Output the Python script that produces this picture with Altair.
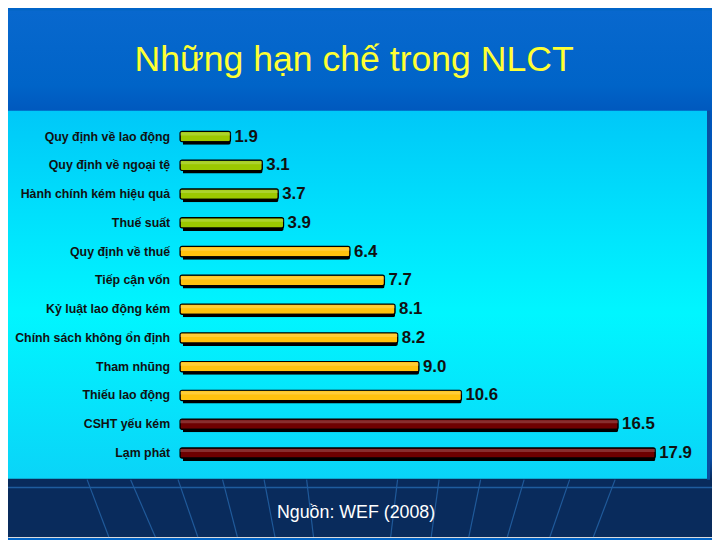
import altair as alt
import pandas as pd

# ---- data ----
categories = [
    "Quy định về lao động",
    "Quy định về ngoại tệ",
    "Hành chính kém hiệu quả",
    "Thuế suất",
    "Quy định về thuế",
    "Tiếp cận vốn",
    "Kỷ luật lao động kém",
    "Chính sách không ổn định",
    "Tham nhũng",
    "Thiếu lao động",
    "CSHT yếu kém",
    "Lạm phát",
]
values = [1.9, 3.1, 3.7, 3.9, 6.4, 7.7, 8.1, 8.2, 9.0, 10.6, 16.5, 17.9]
groups = ["low", "low", "low", "low", "mid", "mid", "mid", "mid", "mid", "mid", "high", "high"]
group_names = ["low", "mid", "high"]
group_colors = ["#9CC800", "#FFC20E", "#6E0000"]

title_text = "Những hạn chế trong NLCT"
source_text = "Nguồn: WEF (2008)"

df = pd.DataFrame({"category": categories, "value": values, "group": groups})

W, H = 712, 532
LABEL_FONT = "Liberation Sans, Arial, sans-serif"

one = alt.Data(values=[{}])

x_scale = alt.Scale(domain=[0, 20], range=[174, 711], nice=False, zero=True)
y_scale = alt.Scale(domain=categories, range=[112.45, 461.55], paddingInner=0.64, paddingOuter=0.32)
X = alt.X("value:Q", scale=x_scale, axis=None)
Y = alt.Y("category:N", sort=categories, scale=y_scale, axis=None)

# slide background
slide = alt.Chart(one).mark_rect(
    fill=alt.Gradient(
        gradient="linear",
        stops=[
            alt.GradientStop(color="#0868CE", offset=0),
            alt.GradientStop(color="#0064C8", offset=0.14),
            alt.GradientStop(color="#0056BC", offset=0.2),
            alt.GradientStop(color="#0A4FA8", offset=0.85),
            alt.GradientStop(color="#082C5E", offset=0.89),
        ],
        x1=0, x2=0, y1=0, y2=1,
    )
).encode(x=alt.value(0), x2=alt.value(W), y=alt.value(0), y2=alt.value(H))

bottom = alt.Chart(one).mark_rect(color="#092B5C").encode(
    x=alt.value(0), x2=alt.value(W), y=alt.value(473), y2=alt.value(H)
)

hline = alt.Chart(one).mark_rule(color="#1F5C9E", strokeWidth=1.5).encode(
    x=alt.value(0), x2=alt.value(W), y=alt.value(482), y2=alt.value(482)
)

# faint perspective grid lines in the footer
deco = pd.DataFrame({
    "x1": [80, 124, 172, 217, 259, 302, 394, 436, 478, 522, 568, 614],
    "x2": [102, 149, 192, 232, 270, 309, 387, 428, 466, 505, 548, 592],
})
grid = alt.Chart(deco).mark_rule(color="#2A6DB5", strokeWidth=1.2, opacity=0.7).encode(
    x=alt.X("x1:Q", scale=None), x2="x2:Q", y=alt.value(474), y2=alt.value(H)
)

panel = alt.Chart(one).mark_rect(
    fill=alt.Gradient(
        gradient="linear",
        stops=[
            alt.GradientStop(color="#00C8F8", offset=0),
            alt.GradientStop(color="#00E6FD", offset=0.35),
            alt.GradientStop(color="#00F6FF", offset=0.55),
            alt.GradientStop(color="#0AD4F8", offset=1),
        ],
        x1=0, x2=0, y1=0, y2=1,
    )
).encode(x=alt.value(0), x2=alt.value(707), y=alt.value(101), y2=alt.value(473))

panel_edge = alt.Chart(one).mark_rule(color="#0A4FA0", strokeWidth=3).encode(
    x=alt.value(708.5), x2=alt.value(708.5), y=alt.value(101), y2=alt.value(474)
)

shadow = alt.Chart(df).mark_bar(color="#000000", xOffset=3, yOffset=3, cornerRadius=2).encode(
    x=X, y=Y
)

bars = alt.Chart(df).mark_bar(stroke="#000000", strokeWidth=1.2, cornerRadius=2).encode(
    x=X,
    y=Y,
    color=alt.Color("group:N", scale=alt.Scale(domain=group_names, range=group_colors), legend=None),
)

highlight = alt.Chart(df).mark_bar(color="#FFFFFF", opacity=0.18, yOffset=-2.5, height=3).encode(
    x=X, y=Y
)

cat_labels = alt.Chart(df).mark_text(
    align="right", baseline="middle", font=LABEL_FONT, fontSize=12.5, fontWeight="bold", color="#111111"
).encode(x=alt.value(164), y=Y, text="category:N")

val_labels = alt.Chart(df).mark_text(
    align="left", baseline="middle", font=LABEL_FONT, fontSize=17, fontWeight="bold", color="#111111", dx=4
).encode(x=X, y=Y, text=alt.Text("value:Q", format=".1f"))

title = alt.Chart(one).mark_text(
    align="center", baseline="middle", font=LABEL_FONT, fontSize=36, color="#FFFF33"
).encode(x=alt.value(350), y=alt.value(50), text=alt.value(title_text))

source = alt.Chart(one).mark_text(
    align="center", baseline="middle", font=LABEL_FONT, fontSize=18, color="#FFFFFF"
).encode(x=alt.value(352), y=alt.value(508), text=alt.value(source_text))

chart = alt.layer(
    slide, bottom, grid, hline, panel, panel_edge, shadow, bars, highlight, cat_labels, val_labels, title, source
).properties(
    width=W, height=H, padding=0, autosize=alt.AutoSizeParams(type="none")
).configure_view(stroke=None).configure(background="#0064C8")

chart.save("out.html", embed_options={"renderer": "svg", "actions": False})
